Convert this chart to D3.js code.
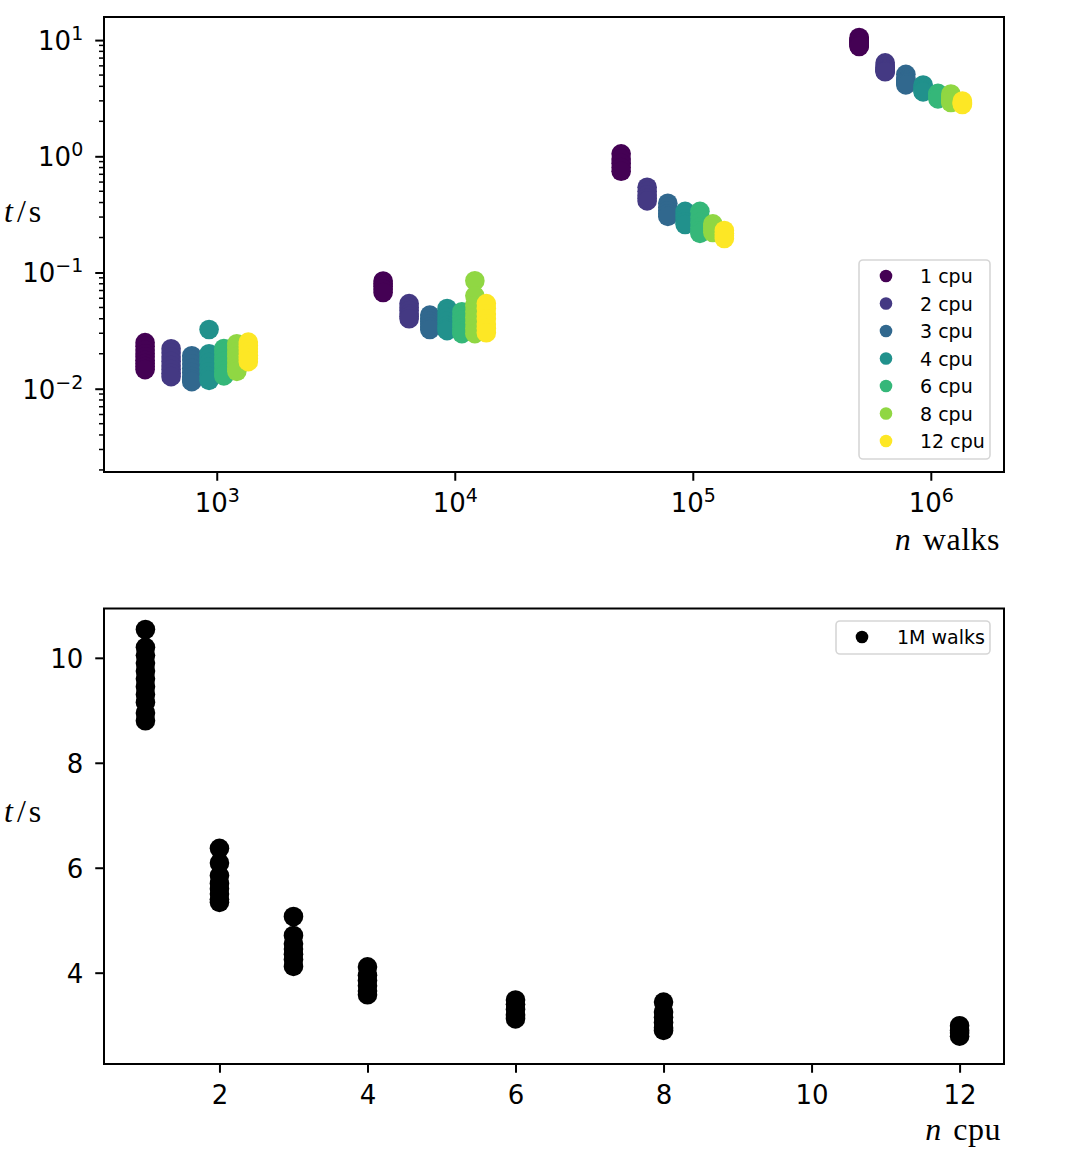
<!DOCTYPE html>
<html>
<head>
<meta charset="utf-8">
<script src="https://cdn.jsdelivr.net/npm/d3@7"></script>
<style>
body { margin: 0; background: #fff; }
.axis .tick text { font-family: "DejaVu Sans", sans-serif; font-size: 26px; fill: #000; }
.axis path { display: none; }
.axis line { stroke: #000; stroke-width: 2; }
.lbl { font-family: "Liberation Serif", "DejaVu Serif", serif; font-size: 32px; fill: #000; }
.leg text { font-family: "DejaVu Sans", sans-serif; font-size: 19px; fill: #000; }
</style>
</head>
<body>
<svg width="1080" height="1156"></svg>
<script>
// cpu counts and their viridis colours
var cpus = [1, 2, 3, 4, 6, 8, 12];
var colors = ["#440154", "#443983", "#31688e", "#21918c", "#35b779", "#90d743", "#fde725"];
// number of walks per group, and the small x offset used to separate the cpu columns
var nWalks = [500, 5000, 50000, 500000];
var xShift = [1, 1.286, 1.571, 1.857, 2.143, 2.429, 2.714];

// run times in seconds (several runs per cpu count), one array per cpu
var t500 = [
  [0.0249, 0.0232, 0.0215, 0.0200, 0.0188, 0.0176, 0.0165, 0.0155, 0.0146],
  [0.0221, 0.0203, 0.0187, 0.0172, 0.0158, 0.0146, 0.0136, 0.0127],
  [0.0192, 0.0177, 0.0163, 0.0150, 0.0138, 0.0127, 0.0120, 0.0115],
  [0.0323, 0.0200, 0.0184, 0.0168, 0.0153, 0.0140, 0.0128, 0.0118],
  [0.0222, 0.0205, 0.0188, 0.0172, 0.0157, 0.0143, 0.0134, 0.0129],
  [0.0244, 0.0225, 0.0207, 0.0190, 0.0174, 0.0160, 0.0149, 0.0141],
  [0.0252, 0.0236, 0.0221, 0.0207, 0.0194, 0.0182, 0.0171]
];
var t5k = [
  [0.0845, 0.080, 0.076, 0.072, 0.0673],
  [0.054, 0.050, 0.047, 0.044, 0.042, 0.040],
  [0.043, 0.040, 0.038, 0.036, 0.034, 0.0323],
  [0.049, 0.045, 0.041, 0.038, 0.035, 0.033, 0.0316],
  [0.046, 0.042, 0.039, 0.036, 0.033, 0.031, 0.0298],
  [0.085, 0.063, 0.052, 0.046, 0.041, 0.037, 0.033, 0.0298],
  [0.054, 0.049, 0.044, 0.040, 0.036, 0.033, 0.0303]
];
var t50k = [
  [1.05, 0.95, 0.87, 0.80, 0.743],
  [0.541, 0.50, 0.465, 0.435, 0.413],
  [0.394, 0.365, 0.34, 0.32, 0.304],
  [0.336, 0.31, 0.29, 0.272, 0.259],
  [0.336, 0.30, 0.27, 0.245, 0.228, 0.217],
  [0.262, 0.248, 0.235, 0.221],
  [0.230, 0.218, 0.207, 0.196]
];
var t500k = [
  [10.54, 10.2, 10.05, 9.9, 9.75, 9.6, 9.45, 9.3, 9.15, 8.95, 8.8],
  [6.37, 6.09, 5.85, 5.7, 5.6, 5.5, 5.4, 5.34],
  [5.07, 4.71, 4.55, 4.45, 4.35, 4.25, 4.12],
  [4.11, 3.95, 3.85, 3.75, 3.65, 3.58],
  [3.48, 3.4, 3.3, 3.2, 3.12],
  [3.44, 3.25, 3.15, 3.05, 2.95, 2.9],
  [2.99, 2.9, 2.85, 2.79]
];
var tGroups = [t500, t5k, t50k, t500k];

var topXTicks = [1e3, 1e4, 1e5, 1e6];
var topYTicks = [1e-2, 1e-1, 1e0, 1e1];
var botXTicks = [2, 4, 6, 8, 10, 12];
var botYTicks = [4, 6, 8, 10];

var svg = d3.select("svg");
var L = 104, R = 1004;
var top1 = 17, bot1 = 472, top2 = 608.5, bot2 = 1064;

// ---------- top panel ----------
var x1 = d3.scaleLog().domain([336, 2.03e6]).range([L, R]);
var y1 = d3.scaleLog().domain([0.00192, 15.8]).range([bot1, top1]);

var pts1 = [];
cpus.forEach(function(c, ci) {
  tGroups.forEach(function(g, gi) {
    g[ci].forEach(function(v) {
      pts1.push({x: nWalks[gi] * xShift[ci], y: v, ci: ci});
    });
  });
});

svg.append("g").selectAll("circle")
  .data(pts1).enter().append("circle")
    .attr("cx", function(d) { return x1(d.x); })
    .attr("cy", function(d) { return y1(d.y); })
    .attr("r", 9.8)
    .attr("fill", function(d) { return colors[d.ci]; });

function pow10(sel) {
  sel.each(function(d) {
    var t = d3.select(this).text("");
    var e = Math.round(Math.log10(d));
    t.append("tspan").text("10");
    t.append("tspan").attr("dy", -10).style("font-size", "19px")
      .text(e < 0 ? "\u2212" + (-e) : e);
  });
}

var gx1 = svg.append("g").attr("class", "axis")
  .attr("transform", "translate(0," + bot1 + ")")
  .call(d3.axisBottom(x1).tickValues(topXTicks).tickSize(8.75).tickPadding(13));
gx1.selectAll(".tick text").call(pow10);

var gy1 = svg.append("g").attr("class", "axis")
  .attr("transform", "translate(" + L + ",0)")
  .call(d3.axisLeft(y1).tickValues(topYTicks).tickSize(8.75).tickPadding(12));
gy1.selectAll(".tick text").attr("dy", "0.36em").call(pow10);

// minor ticks on the log y axis
var minor = [];
[-3, -2, -1, 0, 1].forEach(function(p) {
  for (var m = 2; m <= 9; m++) {
    var v = m * Math.pow(10, p);
    if (v > y1.domain()[0] && v < y1.domain()[1]) minor.push(v);
  }
});
svg.append("g").selectAll("line")
  .data(minor).enter().append("line")
    .attr("x1", L - 5).attr("x2", L)
    .attr("y1", function(d) { return y1(d); })
    .attr("y2", function(d) { return y1(d); })
    .attr("stroke", "#000").attr("stroke-width", 1.5);

svg.append("rect").attr("x", L).attr("y", top1)
  .attr("width", R - L).attr("height", bot1 - top1)
  .attr("fill", "none").attr("stroke", "#000").attr("stroke-width", 2);

function tLabel(y) {
  var t = svg.append("text").attr("class", "lbl").attr("x", 4).attr("y", y);
  t.append("tspan").style("font-style", "italic").text("t");
  t.append("tspan").attr("dx", 4).text("/");
  t.append("tspan").attr("dx", 3).text("s");
}
tLabel(222);

var xl1 = svg.append("text").attr("class", "lbl").attr("x", 1000).attr("y", 550)
  .attr("text-anchor", "end");
xl1.append("tspan").style("font-style", "italic").text("n");
xl1.append("tspan").attr("dx", 12).style("letter-spacing", "0.5px").text("walks");

// legend
var leg1 = svg.append("g").attr("class", "leg");
leg1.append("rect").attr("x", 859).attr("y", 260).attr("width", 131).attr("height", 199)
  .attr("rx", 4).attr("fill", "#fff").attr("fill-opacity", 0.8)
  .attr("stroke", "#d6d6d6").attr("stroke-width", 1.6);
var li = leg1.selectAll("g.item").data(cpus).enter().append("g")
  .attr("transform", function(d, i) { return "translate(0," + (276 + i * 27.5) + ")"; });
li.append("circle").attr("cx", 886).attr("cy", 0).attr("r", 6.3)
  .attr("fill", function(d, i) { return colors[i]; });
li.append("text").attr("x", 920).attr("y", 7).text(function(d) { return d + " cpu"; });

// ---------- bottom panel ----------
var x2 = d3.scaleLinear().domain([0.44, 12.6]).range([L, R]);
var y2 = d3.scaleLinear().domain([2.26, 10.94]).range([bot2, top2]);

var pts2 = [];
cpus.forEach(function(c, ci) {
  t500k[ci].forEach(function(v) { pts2.push({x: c, y: v}); });
});

svg.append("g").selectAll("circle")
  .data(pts2).enter().append("circle")
    .attr("cx", function(d) { return x2(d.x); })
    .attr("cy", function(d) { return y2(d.y); })
    .attr("r", 9.8)
    .attr("fill", "#000");

svg.append("g").attr("class", "axis")
  .attr("transform", "translate(0," + bot2 + ")")
  .call(d3.axisBottom(x2).tickValues(botXTicks).tickSize(8.75).tickPadding(13));
svg.append("g").attr("class", "axis")
  .attr("transform", "translate(" + L + ",0)")
  .call(d3.axisLeft(y2).tickValues(botYTicks).tickSize(8.75).tickPadding(12))
  .selectAll(".tick text").attr("dy", "0.36em");

svg.append("rect").attr("x", L).attr("y", top2)
  .attr("width", R - L).attr("height", bot2 - top2)
  .attr("fill", "none").attr("stroke", "#000").attr("stroke-width", 2);

tLabel(822);
var xl2 = svg.append("text").attr("class", "lbl").attr("x", 1001).attr("y", 1140)
  .attr("text-anchor", "end");
xl2.append("tspan").style("font-style", "italic").text("n");
xl2.append("tspan").attr("dx", 12).style("letter-spacing", "0.5px").text("cpu");

var leg2 = svg.append("g").attr("class", "leg");
leg2.append("rect").attr("x", 836).attr("y", 621).attr("width", 154).attr("height", 33)
  .attr("rx", 4).attr("fill", "#fff").attr("fill-opacity", 0.8)
  .attr("stroke", "#d6d6d6").attr("stroke-width", 1.6);
leg2.append("circle").attr("cx", 862).attr("cy", 637).attr("r", 6.3).attr("fill", "#000");
leg2.append("text").attr("x", 897).attr("y", 644).text("1M walks");
</script>
</body>
</html>
